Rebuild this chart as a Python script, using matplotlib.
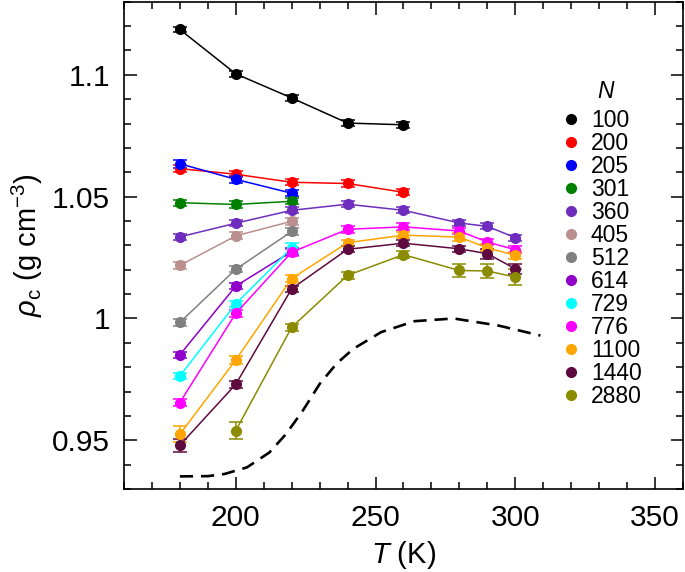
import matplotlib
matplotlib.use('Agg')
import matplotlib.pyplot as plt
from matplotlib.lines import Line2D
from matplotlib.ticker import MultipleLocator

plt.rcParams['font.family'] = ['Liberation Sans', 'DejaVu Sans']
plt.rcParams['mathtext.fontset'] = 'custom'
plt.rcParams['mathtext.rm'] = 'Liberation Sans'
plt.rcParams['mathtext.it'] = 'Liberation Sans:italic'

# datos
T5 = [180, 200, 220, 240, 260]
T3 = [180, 200, 220]
T8 = [180, 200, 220, 240, 260, 280, 290, 300]
T7 = [200, 220, 240, 260, 280, 290, 300]

rho_100 = [1.1186, 1.1004, 1.0905, 1.0802, 1.0795]
rho_200 = [1.0615, 1.0592, 1.0559, 1.0554, 1.0518]
rho_205 = [1.0635, 1.0571, 1.0514]
rho_301 = [1.0475, 1.0468, 1.0481]
rho_360 = [1.0335, 1.0391, 1.0444, 1.0469, 1.0444, 1.0392, 1.0378, 1.0332]
rho_405 = [1.0218, 1.0339, 1.0399]
rho_512 = [0.9984, 1.0202, 1.0357]
rho_614 = [0.9851, 1.0133, 1.0275]
rho_729 = [0.9764, 1.0060, 1.0290]
rho_776 = [0.9655, 1.0021, 1.0272, 1.0366, 1.0376, 1.0359, 1.0314, 1.0282]
rho_1100 = [0.9525, 0.9830, 1.0164, 1.0311, 1.0342, 1.0334, 1.0290, 1.0259]
rho_1440 = [0.9480, 0.9730, 1.0122, 1.0284, 1.0309, 1.0286, 1.0266, 1.0204]
rho_2880 = [0.9540, 0.9964, 1.0177, 1.0262, 1.0197, 1.0195, 1.0170]

err_100 = [0.0012] * 5
err_200 = [0.0013] * 5
err_205 = [0.0016, 0.0014, 0.0013]
err_301 = [0.0013] * 3
err_360 = [0.0012] * 8
err_405 = [0.0014] * 3
err_512 = [0.0013] * 3
err_614 = [0.0013] * 3
err_729 = [0.0013, 0.0013, 0.0020]
err_776 = [0.0014] * 8
err_1100 = [0.0033, 0.0015, 0.0014, 0.0013, 0.0013, 0.0015, 0.0015, 0.0015]
err_1440 = [0.0027, 0.0015, 0.0013, 0.0012, 0.0012, 0.0012, 0.0020, 0.0020]
err_2880 = [0.0035, 0.0015, 0.0013, 0.0015, 0.0027, 0.0027, 0.0034]

labels = ['100', '200', '205', '301', '360', '405', '512', '614',
          '729', '776', '1100', '1440', '2880']
colors = ['#000000', '#ff0000', '#0000ff', '#008000', '#6f2dbd', '#bc8f8f',
          '#808080', '#8f00c9', '#00ffff', '#ff00ff', '#ffa500', '#5e0a3f',
          '#8b8b00']

series = [
    (T5, rho_100, err_100), (T5, rho_200, err_200), (T3, rho_205, err_205),
    (T3, rho_301, err_301), (T8, rho_360, err_360), (T3, rho_405, err_405),
    (T3, rho_512, err_512), (T3, rho_614, err_614), (T3, rho_729, err_729),
    (T8, rho_776, err_776), (T8, rho_1100, err_1100), (T8, rho_1440, err_1440),
    (T7, rho_2880, err_2880),
]

# curva experimental (linea discontinua)
T_exp = [180, 190, 196, 204, 212, 218, 224, 230, 236, 242, 252, 264, 278, 294, 309]
rho_exp = [0.9352, 0.9353, 0.9362, 0.9389, 0.9450, 0.9526, 0.9622, 0.9731,
           0.9814, 0.9875, 0.9944, 0.9989, 1.0000, 0.9971, 0.9930]

fig = plt.figure(figsize=(6.85, 5.72), dpi=100)
ax = fig.add_axes([0.181, 0.145, 0.816, 0.852])

for (T, r, e), c in zip(series, colors):
    ax.errorbar(T, r, yerr=e, color=c, marker='o', ms=7, lw=1.1,
                capsize=5, capthick=1.1, elinewidth=1.1)

ax.plot(T_exp, rho_exp, color='black', lw=1.9, dashes=(5, 3))

ax.set_xlim(160, 360)
ax.set_ylim(0.93, 1.13)
ax.xaxis.set_major_locator(MultipleLocator(50))
ax.xaxis.set_minor_locator(MultipleLocator(10))
ax.yaxis.set_major_locator(MultipleLocator(0.05))
ax.yaxis.set_minor_locator(MultipleLocator(0.01))
ax.set_yticks([0.95, 1.0, 1.05, 1.1])
ax.set_yticklabels(['0.95', '1', '1.05', '1.1'])

ax.tick_params(which='both', direction='in', top=True, right=True, width=1.1,
               labelsize=21.5)
ax.tick_params(which='major', length=9)
ax.tick_params(which='minor', length=5)
ax.tick_params(axis='x', which='major', pad=11)
ax.tick_params(axis='y', which='major', pad=10)
for s in ax.spines.values():
    s.set_linewidth(1.2)

ax.set_xlabel(r'$T$ (K)', fontsize=21, labelpad=5)
ax.set_ylabel(r'$\rho_{\rm c}$ (g cm$^{-3}$)', fontsize=21, labelpad=5)

handles = [Line2D([], [], ls='none', marker='o', ms=7, color=c) for c in colors]
leg = ax.legend(handles, labels, loc='upper left',
                bbox_to_anchor=(0.784, 0.779), borderaxespad=0, borderpad=0,
                frameon=False, fontsize=16.5, handlelength=0.8,
                handletextpad=0.45, labelspacing=0.0)
ax.text(0.862, 0.816, 'N', transform=ax.transAxes, fontsize=16.5,
        style='italic', ha='center', va='center')

plt.savefig('out.png', dpi=100)
